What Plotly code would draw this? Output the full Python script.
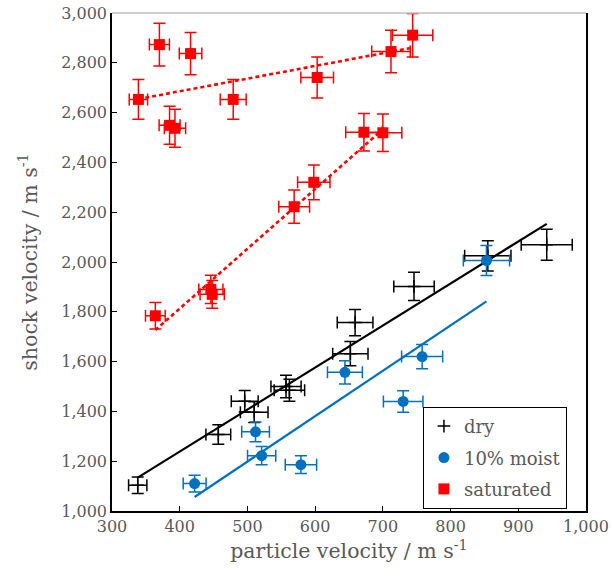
import plotly.graph_objects as go

# ---- data ----
dry_x = [338, 457, 496, 510, 557, 562, 652, 659, 746, 855, 942]
dry_y = [1103, 1307, 1441, 1397, 1500, 1485, 1632, 1757, 1902, 2025, 2069]

moist_x = [422, 512, 521, 579, 644, 730, 758, 853]
moist_y = [1110, 1318, 1222, 1186, 1557, 1440, 1620, 2006]

sat_x = [339, 370, 416, 385, 393, 479, 603, 712, 744, 364, 446, 448, 569, 598, 672, 700]
sat_y = [2653, 2873, 2837, 2549, 2537, 2653, 2741, 2845, 2911, 1784, 1890, 1870, 2222, 2320, 2521, 2519]

# error bars (percent of value)
err_x_pct = 4
err_y_pct = 3

# trend lines: (slope, intercept, x_start, x_end)
trend_dry = (1.687, 564, 338, 942)
trend_moist = (1.823, 287, 422, 853)
trend_sat_low = (2.40, 853, 364, 696)
trend_sat_high = (0.509, 2482, 339, 740)

x_ticks = [300, 400, 500, 600, 700, 800, 900, 1000]
y_ticks = [1000, 1200, 1400, 1600, 1800, 2000, 2200, 2400, 2600, 2800, 3000]

FONT = "'DejaVu Serif', serif"
GRAY = "#595959"
RED = "#ff0000"
BLUE = "#0070c0"

fig = go.Figure()

def trend(params, color, dash, width):
    m, b, x0, x1 = params
    xs = [x0, x1]
    ys = [m * x + b for x in xs]
    fig.add_trace(go.Scatter(x=xs, y=ys, mode="lines", showlegend=False,
                             line=dict(color=color, width=width, dash=dash),
                             hoverinfo="skip"))

trend(trend_dry, "black", "solid", 2.2)
trend(trend_moist, BLUE, "solid", 2.2)
trend(trend_sat_low, RED, "4px,3px", 2.6)
trend(trend_sat_high, RED, "4px,3px", 2.6)

def errs(color):
    return (dict(type="percent", value=err_x_pct, color=color, thickness=1.5, width=6),
            dict(type="percent", value=err_y_pct, color=color, thickness=1.5, width=6))

ex, ey = errs("black")
fig.add_trace(go.Scatter(x=dry_x, y=dry_y, mode="markers", name="dry",
                         legendgroup="a",
                         marker=dict(symbol="cross-thin", size=9,
                                     line=dict(color="black", width=1.5), color="black"),
                         error_x=ex, error_y=ey))
ex, ey = errs(BLUE)
fig.add_trace(go.Scatter(x=moist_x, y=moist_y, mode="markers", name="10% moist",
                         legendgroup="b",
                         marker=dict(symbol="circle", size=11, color=BLUE),
                         error_x=ex, error_y=ey))
ex, ey = errs(RED)
fig.add_trace(go.Scatter(x=sat_x, y=sat_y, mode="markers", name="saturated",
                         legendgroup="c",
                         marker=dict(symbol="square", size=11, color=RED),
                         error_x=ex, error_y=ey))

fig.add_shape(type="line", xref="paper", yref="paper", x0=0, x1=1, y0=1, y1=1,
              line=dict(color="#bfbfbf", width=1.5))

fig.update_layout(
    width=611, height=580,
    margin=dict(l=112, r=25, t=13, b=69, autoexpand=False),
    paper_bgcolor="white", plot_bgcolor="white",
    font=dict(family=FONT, color=GRAY, size=16),
    legend=dict(x=0.656, y=0.209, xanchor="left", yanchor="top",
                bgcolor="white", bordercolor="black", borderwidth=1,
                font=dict(family=FONT, size=18, color=GRAY),
                tracegroupgap=5, itemwidth=30),
    xaxis=dict(range=[300, 1000], tickvals=x_ticks, tickformat=",",
               showgrid=False, zeroline=False, showline=True, automargin=False,
               linecolor="black", linewidth=1.5, ticks="inside", ticklen=5,
               tickcolor="black",
               tickfont=dict(family=FONT, size=16, color=GRAY),
               title=dict(text="particle velocity / m s<sup>-1</sup>",
                          font=dict(family=FONT, size=20.5, color=GRAY), standoff=9)),
    yaxis=dict(range=[1000, 3000], tickvals=y_ticks, tickformat=",",
               showgrid=False, zeroline=False, showline=True, mirror=True, automargin=False,
               linecolor="black", linewidth=1.5, ticks="inside", ticklen=5,
               tickcolor="black",
               tickfont=dict(family=FONT, size=16, color=GRAY),
               title=dict(text="shock velocity / m s<sup>-1</sup>",
                          font=dict(family=FONT, size=20.5, color=GRAY), standoff=18)),
)

fig.write_html("out.html", config={"displayModeBar": False},
               post_script="document.body.style.margin='0px';")
